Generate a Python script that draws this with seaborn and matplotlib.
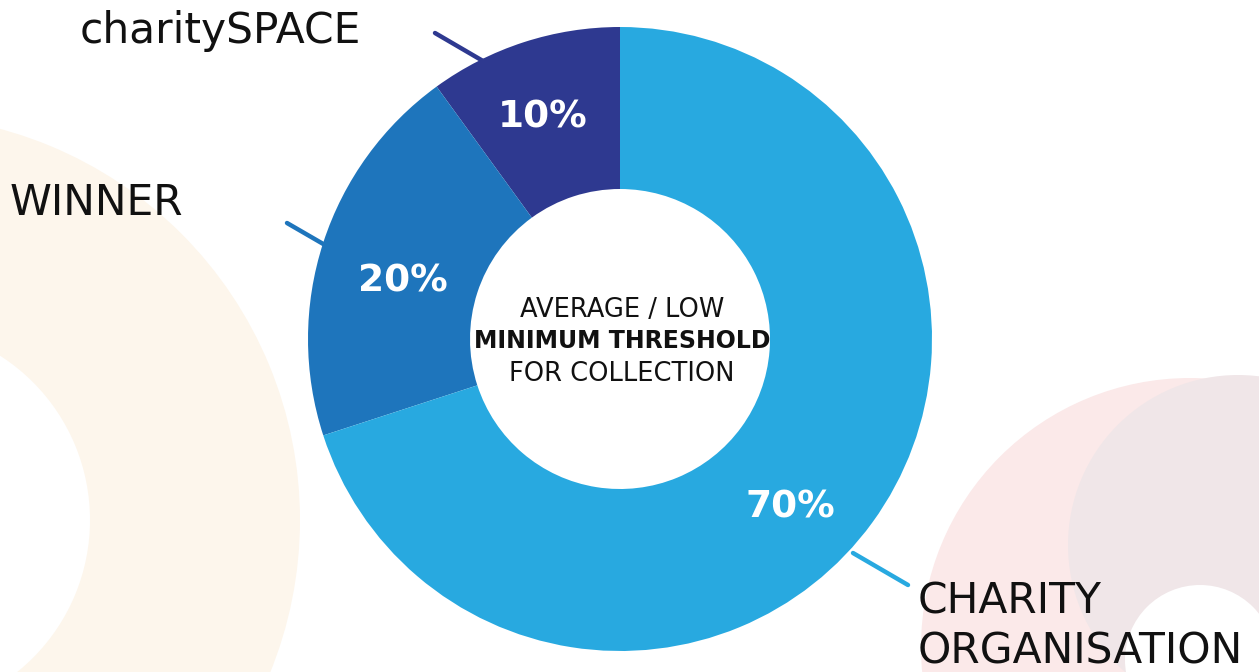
import matplotlib
matplotlib.use("Agg")
import matplotlib.pyplot as plt
import seaborn as sns
from matplotlib.patches import Circle, Wedge

# ---- data ----
categories = ["charitySPACE", "WINNER", "CHARITY\nORGANISATION"]
shares = [10, 20, 70]
pct_labels = ["10%", "20%", "70%"]
colors = ["#2E3990", "#1E75BC", "#28A9E0"]
center_lines = ["AVERAGE / LOW", "MINIMUM THRESHOLD", "FOR COLLECTION"]

sns.set_theme(style="white")
plt.rcParams["font.family"] = ["DejaVu Sans"]

W, H = 1259, 672
fig = plt.figure(figsize=(W / 100, H / 100), dpi=100)
ax = fig.add_axes([0, 0, 1, 1])

def Y(y):
    return H - y

# ---- background decorations ----
ax.add_patch(Wedge((-105, Y(520)), 405, 0, 360, width=210, facecolor="#FDF6EC", edgecolor="none", zorder=0))
ax.add_patch(Circle((1190, Y(647)), 269, facecolor="#FBE9E9", edgecolor="none", zorder=0))
ax.add_patch(Circle((1238, Y(545)), 170, facecolor="#F0E6E8", edgecolor="none", zorder=0.5))
ax.add_patch(Circle((1200, Y(660)), 75, facecolor="white", edgecolor="none", zorder=0.6))

# ---- donut ----
cx, cy, R = 620, Y(339), 312
wedges, _ = ax.pie(shares, colors=colors, startangle=90, counterclock=True,
                   center=(cx, cy), radius=R, frame=True,
                   wedgeprops=dict(width=R - 150, linewidth=0))
ax.set_xlim(0, W)
ax.set_ylim(0, H)
ax.set_aspect("equal")
ax.axis("off")

# percentage labels
pct_pos = [(543, 128), (403, 292), (790, 517)]
for lab, (x, y) in zip(pct_labels, pct_pos):
    ax.text(x, Y(y), lab, ha="center", va="baseline", color="white",
            fontsize=27, fontweight="bold", zorder=5)

# leader lines
lines = [((435, 33), (483, 61), colors[0]),
         ((287, 223), (325, 245), colors[1]),
         ((853, 553), (908, 585), colors[2])]
for (x0, y0), (x1, y1), c in lines:
    ax.plot([x0, x1], [Y(y0), Y(y1)], color=c, lw=3.2, solid_capstyle="round", zorder=3)

# category labels
lab_kw = dict(ha="left", va="baseline", fontsize=30.5, color="#111111")
ax.text(80, Y(43), categories[0], **lab_kw)
ax.text(10, Y(215), categories[1], **lab_kw)
l1, l2 = categories[2].split("\n")
ax.text(918, Y(614), l1, **lab_kw)
ax.text(918, Y(664), l2, **lab_kw)

# centre text
ax.text(622, Y(317), center_lines[0], ha="center", va="baseline", fontsize=18.5, color="#111111")
ax.text(622, Y(348), center_lines[1], ha="center", va="baseline", fontsize=17, color="#111111", fontweight="bold")
ax.text(622, Y(381), center_lines[2], ha="center", va="baseline", fontsize=18.5, color="#111111")

fig.savefig("out.png", dpi=100, facecolor="white")
